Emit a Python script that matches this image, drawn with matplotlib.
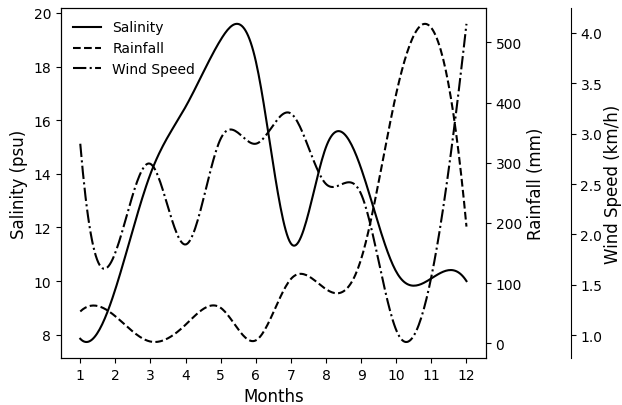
import numpy as np
import matplotlib
matplotlib.use("Agg")
import matplotlib.pyplot as plt

months = [1, 2, 3, 4, 5, 6, 7, 8, 9, 10, 11, 12]
salinity = [7.85, 9.7, 14.0, 16.5, 19.0, 18.2, 11.4, 15.0, 14.2, 10.35, 10.1, 10.0]
rainfall = [53, 45, 3, 31, 59, 5, 107, 90, 140, 415, 524, 194]
wind_speed = [2.90, 1.82, 2.70, 1.90, 2.95, 2.90, 3.20, 2.50, 2.40, 1.05, 1.58, 4.09]


def smooth(x, y, num=300):
    """Not-a-knot cubic spline through the points (drawing only)."""
    x = np.asarray(x, float)
    y = np.asarray(y, float)
    n = len(x)
    h = np.diff(x)
    A = np.zeros((n, n))
    b = np.zeros(n)
    for i in range(1, n - 1):
        A[i, i - 1] = h[i - 1]
        A[i, i] = 2 * (h[i - 1] + h[i])
        A[i, i + 1] = h[i]
        b[i] = 6 * ((y[i + 1] - y[i]) / h[i] - (y[i] - y[i - 1]) / h[i - 1])
    A[0, 0] = h[1]
    A[0, 1] = -(h[0] + h[1])
    A[0, 2] = h[0]
    A[-1, -3] = h[-1]
    A[-1, -2] = -(h[-2] + h[-1])
    A[-1, -1] = h[-2]
    M = np.linalg.solve(A, b)
    xs = np.linspace(x[0], x[-1], num)
    idx = np.clip(np.searchsorted(x, xs) - 1, 0, n - 2)
    hi = h[idx]
    t0 = x[idx + 1] - xs
    t1 = xs - x[idx]
    ys = (M[idx] * t0 ** 3 / (6 * hi) + M[idx + 1] * t1 ** 3 / (6 * hi)
          + (y[idx] / hi - M[idx] * hi / 6) * t0
          + (y[idx + 1] / hi - M[idx + 1] * hi / 6) * t1)
    return xs, ys


fig = plt.figure(figsize=(6.22, 4.06), dpi=100)
ax = fig.add_subplot(111)
fig.subplots_adjust(left=0.098, right=0.781, top=0.978, bottom=0.116)

ax2 = ax.twinx()
ax3 = ax.twinx()
ax3.spines["right"].set_position(("axes", 1.2))
ax3.set_frame_on(True)
ax3.patch.set_visible(False)
for sp in ax3.spines.values():
    sp.set_visible(False)
ax3.spines["right"].set_visible(True)

xs, ys = smooth(months, salinity)
l1, = ax.plot(xs, ys, color="black", linestyle="-", linewidth=1.5, label="Salinity")
xs, ys = smooth(months, rainfall)
l2, = ax2.plot(xs, ys, color="black", linestyle="--", linewidth=1.5, label="Rainfall")
xs, ys = smooth(months, wind_speed)
l3, = ax3.plot(xs, ys, color="black", linestyle="-.", linewidth=1.5, label="Wind Speed")

ax.set_xticks(months)
ax.set_xlabel("Months", fontsize=12)
ax.set_ylabel("Salinity (psu)", fontsize=12)
ax2.set_ylabel("Rainfall (mm)", fontsize=12)
ax3.set_ylabel("Wind Speed (km/h)", fontsize=12, labelpad=1)

ax.legend(handles=[l1, l2, l3], loc="upper left", frameon=False)

fig.savefig("out.png", dpi=100)
